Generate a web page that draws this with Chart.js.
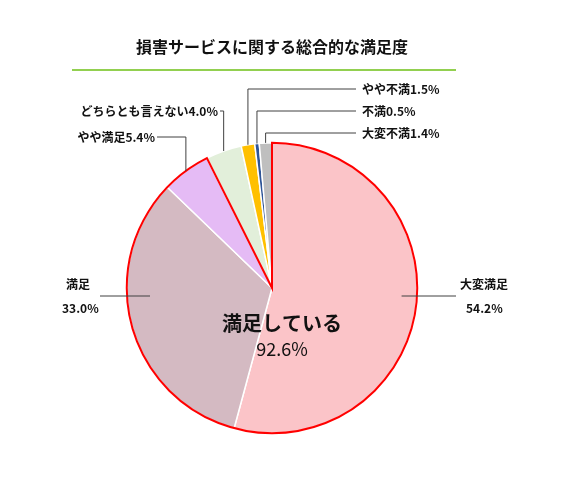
<!DOCTYPE html><html><head><meta charset="utf-8">
<script src="https://cdn.jsdelivr.net/npm/chart.js@4"></script>
<style>body{margin:0;background:#fff}#w{width:563px;height:480px}</style></head><body><div id="w"><canvas id="c"></canvas></div>
<script>
const categories=['大変満足','満足','やや満足','どちらとも言えない','やや不満','不満','大変不満'];
const values=[54.2,33.0,5.4,4.0,1.5,0.5,1.4];
const colors=['#FBC4C8','#D4BAC2','#E5BBF5','#E2EFDA','#FFC000','#2F5597','#BFBFBF'];
const title='損害サービスに関する総合的な満足度';
const centerLabel='満足している';const centerValue='92.6%';
const F='"Noto Sans CJK JP", sans-serif';
const deco={id:'deco',afterDraw(ch){
 const c=ch.ctx,arcs=ch.getDatasetMeta(0).data;
 c.save();
 c.font='bold 16px '+F;c.fillStyle='#111';c.textAlign='center';c.textBaseline='middle';
 c.fillText(title,272,47);
 c.strokeStyle='#92D050';c.lineWidth=2;c.beginPath();c.moveTo(72,70);c.lineTo(456,70);c.stroke();
 const a0=arcs[0],a2=arcs[2];
 c.strokeStyle='#FF0000';c.lineWidth=2;c.beginPath();
 c.moveTo(a0.x,a0.y);c.arc(a0.x,a0.y,a0.outerRadius,a0.startAngle,a2.endAngle);c.closePath();c.stroke();
 const pt=(i,f)=>{const a=arcs[i],m=(a.startAngle+a.endAngle)/2,r=a.outerRadius*f;return [a.x+Math.cos(m)*r,a.y+Math.sin(m)*r];};
 c.strokeStyle='#404040';c.lineWidth=1;
 const L=(pts)=>{c.beginPath();c.moveTo(pts[0][0],pts[0][1]);for(const p of pts.slice(1))c.lineTo(p[0],p[1]);c.stroke();};
 let p=pt(0,0.9);L([[p[0],296],[456,296]]);
 p=pt(1,0.85);L([[150,296],[100,296]]);
 p=pt(2,1);L([[p[0],p[1]],[p[0],137],[157,137]]);
 p=pt(3,1);L([[p[0],p[1]],[p[0],111],[220,111]]);
 p=pt(4,1);L([[p[0],p[1]],[p[0],89],[356,89]]);
 p=pt(5,1);L([[p[0],p[1]],[p[0],111],[356,111]]);
 p=pt(6,1);L([[p[0],p[1]],[p[0],133],[356,133]]);
 c.fillStyle='#111';c.font='bold 12px '+F;c.textAlign='left';
 c.fillText(categories[4]+values[4].toFixed(1)+'%',362,89);
 c.fillText(categories[5]+values[5].toFixed(1)+'%',362,111);
 c.fillText(categories[6]+values[6].toFixed(1)+'%',362,133);
 c.textAlign='right';
 c.fillText(categories[3]+values[3].toFixed(1)+'%',218,111);
 c.fillText(categories[2]+values[2].toFixed(1)+'%',155,137);
 c.textAlign='left';
 c.fillText(categories[1],66,284);c.fillText(values[1].toFixed(1)+'%',62,308);
 c.fillText(categories[0],460,284);c.fillText(values[0].toFixed(1)+'%',466,308);
 c.textAlign='center';c.font='bold 20px '+F;c.fillText(centerLabel,282,323);
 c.font='18px '+F;c.fillText(centerValue,282,349);
 c.restore();}};
new Chart(document.getElementById('c'),{type:'pie',data:{labels:categories,datasets:[{data:values,backgroundColor:colors,borderColor:'#fff',borderWidth:1.5}]},
options:{responsive:true,maintainAspectRatio:false,animation:false,layout:{padding:{top:142,bottom:46,left:126,right:145}},
plugins:{legend:{display:false},tooltip:{enabled:false}}},plugins:[deco]});
</script></body></html>
